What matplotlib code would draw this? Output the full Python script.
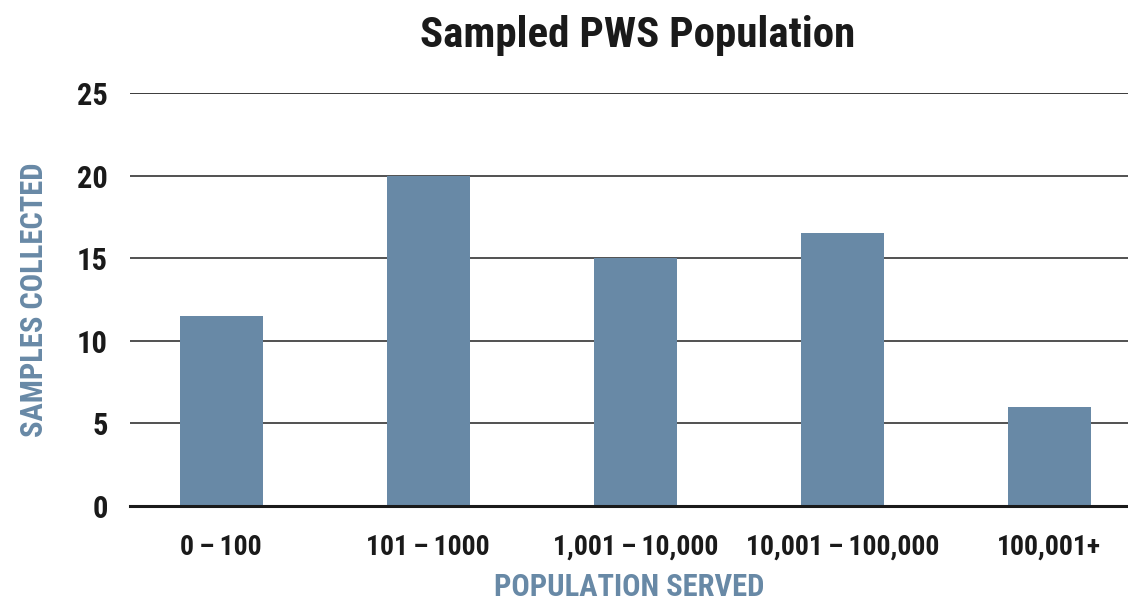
import matplotlib
matplotlib.use("Agg")
import matplotlib.pyplot as plt
from matplotlib import font_manager as fm

categories = ["0\u2009–\u2009100", "101\u2009–\u20091000", "1,001\u2009–\u200910,000",
              "10,001\u2009–\u2009100,000", "100,001+"]
values = [11.5, 20, 15, 16.5, 6]
yticks = [0, 5, 10, 15, 20, 25]

names = {f.name for f in fm.fontManager.ttflist}
cands = ["Roboto Condensed", "Liberation Sans Narrow", "DejaVu Sans Condensed", "DejaVu Sans"]
fam = next(c for c in cands if c in names)
plt.rcParams['font.family'] = [fam, 'DejaVu Sans']

bar_color = "#6889a6"
fig = plt.figure(figsize=(11.28, 6.06), dpi=100)
ax = fig.add_axes([130/1128, 1-506/606, (1128-130)/1128, (506-93)/606])
x = list(range(len(categories)))
ax.bar(x, values, width=0.4, color=bar_color, zorder=2)
ax.set_xlim(-0.44, 4.38)
ax.set_ylim(0, 25)
ax.set_yticks(yticks)
ax.set_xticks(x)
ax.set_xticklabels(categories, fontsize=20, fontweight='bold', color="#1a1a1a")
ax.set_yticklabels([str(t) for t in yticks], fontsize=22, fontweight='bold', color="#1a1a1a")
ax.tick_params(axis='x', length=0, pad=20)
ax.tick_params(axis='y', length=0, pad=16)
for t in yticks[1:]:
    ax.axhline(t, color="#333333" if t != 25 else "#1a1a1a", lw=1.2, zorder=1)
for s in ["top", "right", "left"]:
    ax.spines[s].set_visible(False)
ax.spines["bottom"].set_color("#1a1a1a")
ax.spines["bottom"].set_linewidth(2.2)
ax.spines["bottom"].set_zorder(3)
ax.set_xlabel("POPULATION SERVED", fontsize=22, fontweight='bold', color=bar_color, labelpad=8)
ax.set_ylabel("SAMPLES COLLECTED", fontsize=22, fontweight='bold', color=bar_color, labelpad=20)
fig.text(638/1128, 1-35/606, "Sampled PWS Population", ha='center', va='center',
         fontsize=31, fontweight='bold', color="#1a1a1a")
fig.savefig("out.png", dpi=100)
